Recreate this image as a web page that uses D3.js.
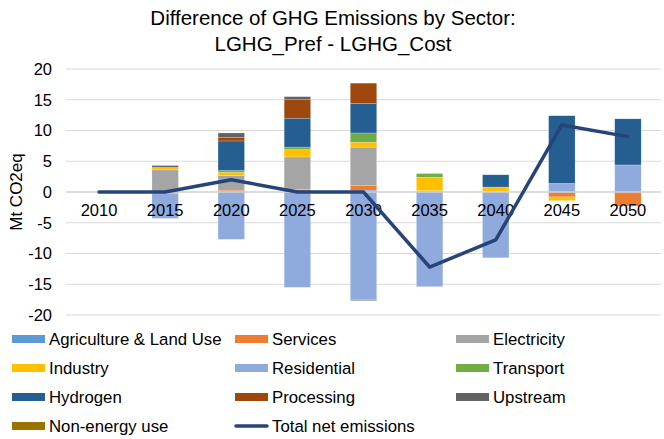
<!DOCTYPE html>
<html><head><meta charset="utf-8">
<script src="https://cdn.jsdelivr.net/npm/d3@7/dist/d3.min.js"></script>
<style>body{margin:0;background:#fff;font-family:"Liberation Sans",Arial,sans-serif;}</style>
</head><body>
<svg id="chart" width="664" height="439"></svg>
<script>
const years = ["2010","2015","2020","2025","2030","2035","2040","2045","2050"];
const agriculture = [0, 0, 0, 0, 0.3, 0, 0, 0, 0];
const services    = [0, -0.2, 0.3, 0.4, 0.8, 0, 0, -0.8, -2.3];
const electricity = [0, 3.6, 2.4, 5.3, 6.2, 0.2, 0.1, 0, 0];
const industry    = [0, 0.4, 0.5, 1.2, 0.8, 2.2, 0.7, -0.6, 0];
const residential = [0, -4.1, -7.7, -15.5, -17.5, -15.4, -10.7, 1.4, 4.4];
const transport   = [0, 0, 0.3, 0.4, 1.5, 0.6, 0, 0, 0];
const hydrogen    = [0, 0, 4.8, 4.7, 4.8, 0, 2.0, 11.0, 7.5];
const processing  = [0, 0, 0.6, 3.0, 3.3, 0, 0, 0, 0];
const upstream    = [0, 0.3, 0.7, 0.5, -0.15, 0, 0, 0, 0];
const nonEnergy   = [0, 0, 0, 0, 0, 0, 0, 0, 0];
const totalNet    = [0, 0, 2.0, 0, 0, -12.2, -7.8, 10.9, 9.0];
const yTicks = [-20, -15, -10, -5, 0, 5, 10, 15, 20];

const seriesNames = ["Agriculture & Land Use","Services","Electricity","Industry","Residential","Transport","Hydrogen","Processing","Upstream","Non-energy use"];
const seriesData = [agriculture, services, electricity, industry, residential, transport, hydrogen, processing, upstream, nonEnergy];
const colors = ["#5B9BD5","#ED7D31","#A5A5A5","#FFC000","#8FAADC","#70AD47","#255E91","#9E480E","#636363","#997300"];
const lineName = "Total net emissions";
const lineColor = "#264478";

const svg = d3.select("#chart");
const m = {left: 66, right: 3, top: 69, bottom: 124};
const W = 664, H = 439;
const x = d3.scaleBand().domain(years).range([m.left, W - m.right]).paddingInner(0.6).paddingOuter(0.3);
const y = d3.scaleLinear().domain([-20, 20]).range([315, 69]);

// gridlines
svg.append("g").selectAll("line").data(yTicks.filter(d => d !== 0)).join("line")
  .attr("x1", m.left).attr("x2", W - m.right)
  .attr("y1", d => y(d)).attr("y2", d => y(d))
  .attr("stroke", "#d9d9d9").attr("stroke-width", 1);

// y tick labels
svg.append("g").selectAll("text").data(yTicks).join("text")
  .attr("x", 52).attr("y", d => y(d)).attr("dy", "0.35em")
  .attr("text-anchor", "end").attr("font-size", 16.5).attr("fill", "#000")
  .text(d => d);

// y axis title
svg.append("text").attr("transform", `translate(22,${y(0)}) rotate(-90)`)
  .attr("text-anchor", "middle").attr("font-size", 17).text("Mt CO2eq");

// stacked bars
const table = years.map((yr, i) => {
  const o = {year: yr};
  seriesNames.forEach((n, k) => o[n] = seriesData[k][i]);
  return o;
});
const stack = d3.stack().keys(seriesNames).offset(d3.stackOffsetDiverging);
const stacked = stack(table);
svg.append("g").selectAll("g").data(stacked).join("g")
  .attr("fill", (d, i) => colors[i])
  .selectAll("rect").data(d => d).join("rect")
  .attr("x", d => x(d.data.year))
  .attr("width", x.bandwidth())
  .attr("y", d => y(Math.max(d[0], d[1])))
  .attr("height", d => Math.abs(y(d[0]) - y(d[1])))
  .attr("stroke", "#ffffff").attr("stroke-opacity", 0.4).attr("stroke-width", 0.5);

// zero axis line
svg.append("line").attr("x1", m.left).attr("x2", W - m.right)
  .attr("y1", y(0)).attr("y2", y(0)).attr("stroke", "#d0d0d0").attr("stroke-width", 1.5);

// x labels
svg.append("g").selectAll("text").data(years).join("text")
  .attr("x", d => x(d) + x.bandwidth() / 2).attr("y", y(0) + 24)
  .attr("text-anchor", "middle").attr("font-size", 16.5).text(d => d);

// line
const line = d3.line().x((d, i) => x(years[i]) + x.bandwidth() / 2).y(d => y(d));
svg.append("path").datum(totalNet).attr("d", line)
  .attr("fill", "none").attr("stroke", lineColor).attr("stroke-width", 3.5)
  .attr("stroke-linejoin", "round").attr("stroke-linecap", "round");

// title
const title = svg.append("text").attr("text-anchor", "middle").attr("font-size", 20.5).attr("fill", "#000");
title.append("tspan").attr("x", 333).attr("y", 25).text("Difference of GHG Emissions by Sector:");
title.append("tspan").attr("x", 333).attr("y", 51).text("LGHG_Pref - LGHG_Cost");

// legend
const legendItems = seriesNames.map((n, i) => ({name: n, color: colors[i], type: "rect"}))
  .concat([{name: lineName, color: lineColor, type: "line"}]);
const colX = [12, 235, 456];
const rowY = [339, 368, 397, 426];
const lg = svg.append("g").selectAll("g").data(legendItems).join("g")
  .attr("transform", (d, i) => `translate(${colX[i % 3]},${rowY[Math.floor(i / 3)]})`);
lg.filter(d => d.type === "rect").append("rect")
  .attr("x", 0).attr("y", -4).attr("width", 33).attr("height", 8).attr("fill", d => d.color);
lg.filter(d => d.type === "line").append("line")
  .attr("x1", 1).attr("x2", 32).attr("y1", 0).attr("y2", 0)
  .attr("stroke", d => d.color).attr("stroke-width", 3.5).attr("stroke-linecap", "round");
lg.append("text").attr("x", 37).attr("y", 0).attr("dy", "0.35em")
  .attr("font-size", 16.8).text(d => d.name);
</script>
</body></html>
